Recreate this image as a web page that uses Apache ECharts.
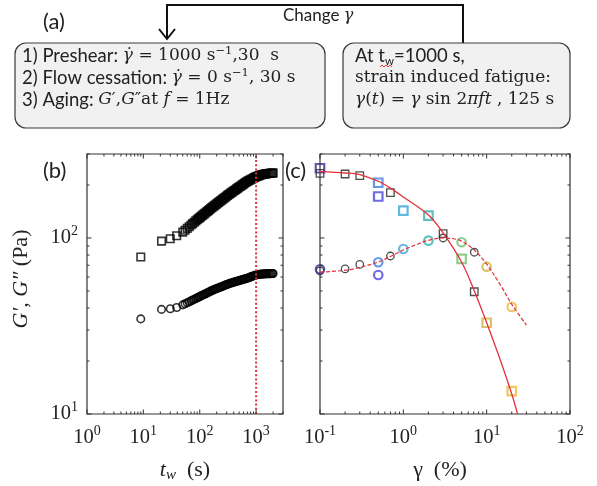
<!DOCTYPE html>
<html>
<head>
<meta charset="utf-8">
<script src="https://cdn.jsdelivr.net/npm/echarts@6/dist/echarts.min.js"></script>
<style>
  html, body { margin: 0; padding: 0; background: #fff; }
  #main { width: 597px; height: 486px; }
</style>
</head>
<body>
<div id="main"></div>
<script>
// ---- (b) aging: moduli versus waiting time ----
const tW = [9, 21, 30, 39, 50, 55, 60, 65, 70, 75, 80, 85,
  90, 94, 99, 103, 108, 113, 119, 124, 130, 136, 143, 149, 156, 164, 171,
  180, 188, 197, 206, 216, 226, 237, 248, 259, 272, 284, 298, 312, 327, 342,
  358, 375, 393, 411, 431, 451, 472, 494, 518, 542, 568, 594, 622, 652, 682,
  715, 748, 783, 820, 859, 899, 942, 986,
  1033, 1081, 1132, 1186, 1242, 1300, 1361, 1426, 1493, 1563, 1637, 1714, 1795, 1879, 1968, 2000];
const gStorageAging = [78, 96, 99, 103, 108, 110.7, 113.4, 115.9, 118.4, 120.7, 122.9, 125,
  127, 128.5, 130.1, 131.7, 133.3, 134.9, 136.6, 138.2, 139.9, 141.6, 143.3, 145.1, 146.9, 148.7, 150.5,
  152.2, 153.9, 155.7, 157.5, 159.3, 161.1, 163, 164.8, 166.7, 168.6, 170.5, 172.5, 174.5, 176.5, 178.5,
  180.4, 182.3, 184.2, 186.2, 188.1, 190.1, 192.1, 194.1, 196.1, 198.2, 200.3, 202.4, 204.5, 206.7, 208.8,
  210.5, 212.2, 213.8, 215.5, 217.2, 218.9, 220.6, 222.3,
  223.7, 224.9, 226.2, 227.4, 228.7, 229.5, 230.1, 230.8, 231.4, 232.1, 232.5, 232.8, 233.2, 233.5, 233.8, 233.9];
const gLossAging = [34.7, 39.3, 39.6, 40.3, 41.7, 42.3, 42.9, 43.4, 43.9, 44.4, 44.9, 45.3,
  45.7, 46, 46.4, 46.7, 47.1, 47.4, 47.7, 48.1, 48.4, 48.8, 49.1, 49.5, 49.9, 50.2, 50.6,
  50.9, 51.2, 51.5, 51.8, 52.1, 52.4, 52.7, 53, 53.3, 53.7, 54, 54.3, 54.6, 54.9, 55.2,
  55.5, 55.7, 56, 56.2, 56.5, 56.7, 57, 57.2, 57.5, 57.7, 58, 58.2, 58.5, 58.7, 59,
  59.3, 59.6, 59.9, 60.3, 60.6, 60.9, 61.2, 61.6,
  61.8, 62, 62.1, 62.2, 62.3, 62.4, 62.5, 62.5, 62.6, 62.6, 62.7, 62.7, 62.7, 62.8, 62.8, 62.8];
const fatigueStart = 1000;

// ---- (c) moduli after fatigue versus strain amplitude ----
const strainBlack = [0.1, 0.2, 0.3, 0.7, 3, 7.1];
const gStorageBlack = [233, 231, 226, 181, 106, 49.5];
const gLossBlack = [65, 66.7, 70.8, 79, 100, 83];
const strainColored = [0.1, 0.5, 0.5, 1, 2, 5, 10, 20];
const gStorageColored = [249, 206, 172, 143, 134, 76, 33, 13.5];
const gLossColored = [66.4, 72.8, 61.6, 86.6, 96.6, 94.6, 68.7, 40.6];
const strainColors = ['#3a2f8c', '#3f7fe2', '#4b45df', '#3aa6d8', '#38b0aa', '#72c172', '#d2b340', '#f2b63e'];

const fitStrainStorage = [0.1, 0.2, 0.3, 0.5, 0.7, 1, 2, 3, 5, 7, 10, 15, 20, 23.5];
const fitStorage = [238, 234, 229, 210, 192, 171, 135, 107, 73, 51, 33, 19.5, 13, 10];
const fitStrainLoss = [0.1, 0.2, 0.3, 0.5, 0.7, 1, 1.5, 2, 3, 4, 5, 7, 10, 15, 20, 30];
const fitLoss = [64, 65.5, 68, 73, 78.5, 85.5, 92.5, 97, 100, 99, 96, 86, 71, 53, 42, 32];

// ---- axes ----
const tRange = [1, 3000];
const strainRange = [0.1, 100];
const modRange = [10, 300];
const tTicks = [1, 10, 100, 1000];
const strainTicks = [0.1, 1, 10, 100];
const modTicks = [10, 100];
const minorMultipliers = [2, 3, 4, 5, 6, 7, 8, 9];

const serif = 'Liberation Serif';
const mathFont = 'DejaVu Serif';
const sans = 'Lato';

const pow10Label = v => '{b|10}{e|' + Math.round(Math.log10(v)) + '}';
const powRich = {
  b: { fontSize: 20.5, fontFamily: serif, color: '#222', lineHeight: 27 },
  e: { fontSize: 14, fontFamily: serif, color: '#222', lineHeight: 15, verticalAlign: 'top' }
};

function logTicks(range) {
  const out = [];
  const d0 = Math.floor(Math.log10(range[0]) + 1e-9);
  const d1 = Math.ceil(Math.log10(range[1]) - 1e-9);
  for (let d = d0; d <= d1; d++) {
    [1].concat(minorMultipliers).forEach(m => {
      const v = m * Math.pow(10, d);
      if (v >= range[0] * (1 - 1e-9) && v <= range[1] * (1 + 1e-9)) out.push({ v: v, major: m === 1 });
    });
  }
  return out;
}

// box ticks on all four sides, pointing inward
function boxTicks(axisIndex, xRange, yRange) {
  return {
    type: 'custom', xAxisIndex: axisIndex, yAxisIndex: axisIndex, silent: true, clip: false, z: 6,
    data: [[xRange[0], yRange[0]]],
    renderItem: function (params, api) {
      const kids = [];
      const line = (x1, y1, x2, y2) => kids.push({
        type: 'line', shape: { x1: x1, y1: y1, x2: x2, y2: y2 },
        style: { stroke: '#333', lineWidth: 1 }
      });
      const p0 = api.coord([xRange[0], yRange[0]]);
      const p1 = api.coord([xRange[1], yRange[1]]);
      const bottom = p0[1], top = p1[1], left = p0[0], right = p1[0];
      logTicks(xRange).forEach(t => {
        const x = api.coord([t.v, yRange[0]])[0];
        const len = t.major ? 4.5 : 2.5;
        line(x, bottom, x, bottom - len);
        line(x, top, x, top + len);
      });
      logTicks(yRange).forEach(t => {
        const y = api.coord([xRange[0], t.v])[1];
        const len = t.major ? 4.5 : 2.5;
        line(left, y, left + len, y);
        line(right, y, right - len, y);
      });
      return { type: 'group', children: kids };
    }
  };
}

const hollow = (color, width) => ({ color: 'rgba(0,0,0,0)', borderColor: color, borderWidth: width });

const boxRich = {
  s: { fontSize: 18.5, fontFamily: sans, fill: '#222', lineHeight: 22 },
  mi: { fontSize: 17, fontFamily: mathFont, fontStyle: 'italic', fill: '#222', lineHeight: 22 },
  m: { fontSize: 17, fontFamily: mathFont, fill: '#222', lineHeight: 22 },
  e: { fontSize: 11.5, fontFamily: mathFont, fill: '#222', lineHeight: 12, verticalAlign: 'top' },
  w: { fontSize: 11.5, fontFamily: sans, fill: '#222', lineHeight: 11, verticalAlign: 'bottom' }
};

const chart = echarts.init(document.getElementById('main'), null, { renderer: 'canvas' });

const option = {
  backgroundColor: '#ffffff',
  animation: false,
  grid: [
    { left: 87, top: 154, width: 196, height: 260, show: true, borderColor: '#333', borderWidth: 1.2,
      backgroundColor: '#fff', containLabel: false, outerBoundsMode: 'none' },
    { left: 320, top: 154, width: 250, height: 260, show: true, borderColor: '#333', borderWidth: 1.2,
      backgroundColor: '#fff', containLabel: false, outerBoundsMode: 'none' }
  ],
  xAxis: [
    {
      gridIndex: 0, type: 'log', logBase: 10, min: tRange[0], max: tRange[1],
      axisLine: { show: false }, axisTick: { show: false }, splitLine: { show: false },
      axisLabel: { customValues: tTicks, formatter: pow10Label, rich: powRich, margin: 10 },
      name: '{i|t}{s|w}{n|  (s)}', nameLocation: 'middle', nameGap: 43,
      nameTextStyle: { rich: {
        i: { fontSize: 22, fontFamily: serif, fontStyle: 'italic', color: '#222', lineHeight: 26 },
        s: { fontSize: 15, fontFamily: serif, fontStyle: 'italic', color: '#222', lineHeight: 15, verticalAlign: 'bottom' },
        n: { fontSize: 22, fontFamily: serif, color: '#222', lineHeight: 26 }
      } }
    },
    {
      gridIndex: 1, type: 'log', logBase: 10, min: strainRange[0], max: strainRange[1],
      axisLine: { show: false }, axisTick: { show: false }, splitLine: { show: false },
      axisLabel: { customValues: strainTicks, formatter: pow10Label, rich: powRich, margin: 10 },
      name: 'γ  (%)', nameLocation: 'middle', nameGap: 43,
      nameTextStyle: { fontSize: 22, fontFamily: serif, color: '#222', lineHeight: 26, padding: [0, 10, 0, 0] }
    }
  ],
  yAxis: [
    {
      gridIndex: 0, type: 'log', logBase: 10, min: modRange[0], max: modRange[1],
      axisLine: { show: false }, axisTick: { show: false }, splitLine: { show: false },
      axisLabel: { customValues: modTicks, formatter: pow10Label, rich: powRich, margin: 9 },
      name: '{i|G′, G″}{n| (Pa)}', nameLocation: 'middle', nameGap: 53, nameRotate: 90,
      nameTextStyle: { padding: [0, 0, 0, 10], rich: {
        i: { fontSize: 22, fontFamily: serif, fontStyle: 'italic', color: '#222', lineHeight: 26 },
        n: { fontSize: 22, fontFamily: serif, color: '#222', lineHeight: 26 }
      } }
    },
    {
      gridIndex: 1, type: 'log', logBase: 10, min: modRange[0], max: modRange[1],
      axisLine: { show: false }, axisTick: { show: false }, splitLine: { show: false },
      axisLabel: { show: false }
    }
  ],
  series: [
    // (b)
    { type: 'scatter', xAxisIndex: 0, yAxisIndex: 0, silent: true, z: 3,
      data: tW.map((t, i) => [t, gStorageAging[i]]),
      symbol: 'rect', symbolSize: 7.5, itemStyle: hollow('#000', 1.6) },
    { type: 'scatter', xAxisIndex: 0, yAxisIndex: 0, silent: true, z: 3,
      data: tW.map((t, i) => [t, gLossAging[i]]),
      symbol: 'circle', symbolSize: 7.5, itemStyle: hollow('#000', 1.6) },
    { type: 'line', xAxisIndex: 0, yAxisIndex: 0, silent: true, z: 4, symbol: 'none',
      data: [[fatigueStart, modRange[0]], [fatigueStart, modRange[1]]],
      lineStyle: { color: '#e3303a', width: 2, type: [2, 2.2] } },
    boxTicks(0, tRange, modRange),

    // (c)
    { type: 'scatter', xAxisIndex: 1, yAxisIndex: 1, silent: true, z: 3,
      data: strainBlack.map((g, i) => [g, gStorageBlack[i]]),
      symbol: 'rect', symbolSize: 7.5, itemStyle: hollow('#222', 1.3) },
    { type: 'scatter', xAxisIndex: 1, yAxisIndex: 1, silent: true, z: 3,
      data: strainBlack.map((g, i) => [g, gLossBlack[i]]),
      symbol: 'circle', symbolSize: 7.5, itemStyle: hollow('#222', 1.3) },
    { type: 'scatter', xAxisIndex: 1, yAxisIndex: 1, silent: true, z: 3,
      data: strainColored.map((g, i) => ({ value: [g, gStorageColored[i]], itemStyle: hollow(strainColors[i], 2.2) })),
      symbol: 'rect', symbolSize: 8.5 },
    { type: 'scatter', xAxisIndex: 1, yAxisIndex: 1, silent: true, z: 3,
      data: strainColored.map((g, i) => ({ value: [g, gLossColored[i]], itemStyle: hollow(strainColors[i], 2.2) })),
      symbol: 'circle', symbolSize: 8.5 },
    { type: 'line', xAxisIndex: 1, yAxisIndex: 1, silent: true, z: 4, symbol: 'none', smooth: 0.35,
      data: fitStrainStorage.map((g, i) => [g, fitStorage[i]]),
      lineStyle: { color: '#e3303a', width: 1.3 } },
    { type: 'line', xAxisIndex: 1, yAxisIndex: 1, silent: true, z: 4, symbol: 'none', smooth: 0.35,
      data: fitStrainLoss.map((g, i) => [g, fitLoss[i]]),
      lineStyle: { color: '#e3303a', width: 1.2, type: [4, 2] } },
    boxTicks(1, strainRange, modRange)
  ],
  graphic: [
    // protocol flow arrows
    { type: 'polyline', shape: { points: [[167, 39], [167, 5], [463, 5], [463, 43]] },
      style: { stroke: '#111', lineWidth: 2, fill: null } },
    { type: 'polyline', shape: { points: [[159, 29], [167, 39], [175, 29]] },
      style: { stroke: '#111', lineWidth: 2, fill: null } },
    { type: 'text', x: 283, y: 16, style: {
      text: '{s|Change }{m|γ}', verticalAlign: 'middle',
      rich: { s: { fontSize: 17, fontFamily: sans, fill: '#222' },
              m: { fontSize: 16, fontFamily: mathFont, fontStyle: 'italic', fill: '#222' } } } },
    { type: 'text', x: 43, y: 22, style: { text: '(a)', fontSize: 22, fontFamily: sans, fill: '#222', verticalAlign: 'middle' } },

    // protocol boxes
    { type: 'rect', shape: { x: 15, y: 43, width: 310, height: 85, r: 11 },
      style: { fill: '#f1f1f1', stroke: '#3a3a3a', lineWidth: 1.2 } },
    { type: 'rect', shape: { x: 343, y: 43, width: 227, height: 85, r: 11 },
      style: { fill: '#f1f1f1', stroke: '#3a3a3a', lineWidth: 1.2 } },

    { type: 'text', x: 22, y: 56, style: {
      text: '{s|1) Preshear: }{mi|γ̇}{m| = 1000 s}{e|−1}{m|,30  s}', verticalAlign: 'middle', rich: boxRich } },
    { type: 'text', x: 22, y: 78, style: {
      text: '{s|2) Flow cessation: }{mi|γ̇}{m| = 0 s}{e|−1}{m|, 30 s}', verticalAlign: 'middle', rich: boxRich } },
    { type: 'text', x: 22, y: 100, style: {
      text: '{s|3) Aging: }{mi|G}{m|′,}{mi|G}{m|″at }{mi|f}{m| = 1Hz}', verticalAlign: 'middle', rich: boxRich } },

    { type: 'text', x: 355, y: 56, style: {
      text: '{s|At t}{w|w}{s|=1000 s,}', verticalAlign: 'middle', rich: boxRich } },
    { type: 'polyline', shape: { points: [[380, 67], [382, 65], [384, 67], [386, 65], [388, 67], [390, 65], [392, 67]] },
      style: { stroke: '#e04040', lineWidth: 1, fill: null } },
    { type: 'text', x: 355, y: 78, style: {
      text: 'strain induced fatigue:', fontSize: 17, fontFamily: mathFont, fill: '#222', verticalAlign: 'middle' } },
    { type: 'text', x: 355, y: 100, style: {
      text: '{mi|γ}{m|(}{mi|t}{m|) = }{mi|γ}{m| sin 2}{mi|πft}{m| , 125 s}', verticalAlign: 'middle', rich: boxRich } },

    // panel letters
    { type: 'text', x: 43, y: 171, style: { text: '(b)', fontSize: 22, fontFamily: sans, fill: '#222', verticalAlign: 'middle' } },
    { type: 'text', x: 285, y: 171, style: { text: '(c)', fontSize: 22, fontFamily: sans, fill: '#222', verticalAlign: 'middle' } }
  ]
};

chart.setOption(option);
</script>
</body>
</html>
